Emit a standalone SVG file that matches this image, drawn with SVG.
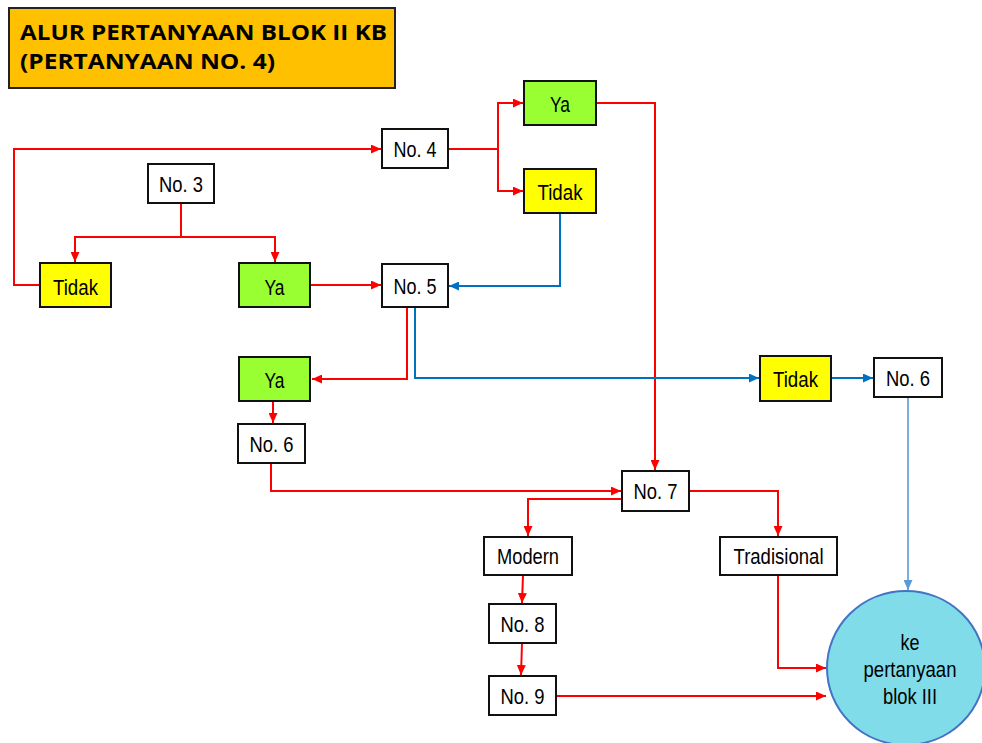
<svg xmlns="http://www.w3.org/2000/svg" width="982" height="743" viewBox="0 0 982 743">
<style>
.box{stroke:#111;stroke-width:2}
.w{fill:#fff}
.y{fill:#ffff00}
.g{fill:#99ff33}
.t{font-family:"Liberation Sans",Arial,sans-serif;font-size:22.5px;fill:#000;text-anchor:middle}
.title{font-family:"Open Sans","Noto Sans",sans-serif;font-weight:bold;font-size:21px;fill:#000}
.r{fill:none;stroke:#ff0000;stroke-width:2;marker-end:url(#ar)}
.b{fill:none;stroke:#0070c0;stroke-width:2;marker-end:url(#ab)}
.lb{fill:none;stroke:#5b9bd5;stroke-width:1.6;marker-end:url(#al)}
</style>
<defs>
<marker id="ar" markerUnits="userSpaceOnUse" markerWidth="11" markerHeight="9" refX="10" refY="4.5" orient="auto"><path d="M0,0 L10,4.5 L0,9 z" fill="#ff0000"/></marker>
<marker id="ab" markerUnits="userSpaceOnUse" markerWidth="11" markerHeight="9" refX="10" refY="4.5" orient="auto"><path d="M0,0 L10,4.5 L0,9 z" fill="#0070c0"/></marker>
<marker id="al" markerUnits="userSpaceOnUse" markerWidth="11" markerHeight="9" refX="10" refY="4.5" orient="auto"><path d="M0,0 L10,4.5 L0,9 z" fill="#5b9bd5"/></marker>
</defs>
<rect width="982" height="743" fill="#fff"/>

<g id="title">
<rect x="9" y="8" width="386" height="80" fill="#ffc000" stroke="#222" stroke-width="2"/>
<text class="title" x="20" y="40" textLength="367" lengthAdjust="spacingAndGlyphs">ALUR PERTANYAAN BLOK II KB</text>
<text class="title" x="20" y="69" textLength="255" lengthAdjust="spacingAndGlyphs">(PERTANYAAN NO. 4)</text>
</g>

<g id="connectors">
<path class="r" d="M181,203 V237 H75 V262"/>
<path class="r" d="M181,237 H275 V262"/>
<path class="r" d="M40,285 H14 V149 H381"/>
<path class="r" d="M310,285 H381"/>
<path class="r" d="M448,149 H498 V103 H523"/>
<path class="r" d="M498,149 V191 H523"/>
<path class="r" d="M596,103 H655 V470"/>
<path class="b" d="M560,213 V286 H449"/>
<path class="r" d="M407,307 V379 H312"/>
<path class="b" d="M415,307 V378 H759"/>
<path class="r" d="M273,401 V423"/>
<path class="r" d="M271,463 V491 H621"/>
<path class="r" d="M622,499 H528 V536"/>
<path class="r" d="M689,491 H778 V536"/>
<path class="r" d="M523,575 L522,603"/>
<path class="r" d="M522,643 L521,675"/>
<path class="r" d="M556,696 H826"/>
<path class="r" d="M778,575 V668 H826"/>
<path class="b" d="M831,378 H873"/>
<path class="lb" d="M908,397 V590"/>
</g>

<g id="n3"><rect class="box w" x="148" y="164" width="66" height="39"/><text class="t" x="181" y="192" textLength="44" lengthAdjust="spacingAndGlyphs">No. 3</text></g>
<g id="n4"><rect class="box w" x="382" y="129" width="66" height="39"/><text class="t" x="415" y="157" textLength="43" lengthAdjust="spacingAndGlyphs">No. 4</text></g>
<g id="tidak1"><rect class="box y" x="40" y="263" width="71" height="44"/><text class="t" x="75.5" y="295" textLength="45" lengthAdjust="spacingAndGlyphs">Tidak</text></g>
<g id="ya1"><rect class="box g" x="239" y="263" width="71" height="44"/><text class="t" x="274.5" y="295" textLength="20" lengthAdjust="spacingAndGlyphs">Ya</text></g>
<g id="n5"><rect class="box w" x="382" y="264" width="66" height="43"/><text class="t" x="415" y="294" textLength="43" lengthAdjust="spacingAndGlyphs">No. 5</text></g>
<g id="ya2"><rect class="box g" x="524" y="81" width="72" height="44"/><text class="t" x="560" y="112" textLength="20" lengthAdjust="spacingAndGlyphs">Ya</text></g>
<g id="tidak2"><rect class="box y" x="524" y="169" width="72" height="44"/><text class="t" x="560" y="200" textLength="45" lengthAdjust="spacingAndGlyphs">Tidak</text></g>
<g id="ya3"><rect class="box g" x="239" y="357" width="71" height="44"/><text class="t" x="274.5" y="388" textLength="20" lengthAdjust="spacingAndGlyphs">Ya</text></g>
<g id="n6a"><rect class="box w" x="238" y="424" width="67" height="39"/><text class="t" x="271.5" y="452" textLength="44" lengthAdjust="spacingAndGlyphs">No. 6</text></g>
<g id="tidak3"><rect class="box y" x="760" y="356" width="71" height="45"/><text class="t" x="795.5" y="387" textLength="45" lengthAdjust="spacingAndGlyphs">Tidak</text></g>
<g id="n6b"><rect class="box w" x="874" y="358" width="68" height="39"/><text class="t" x="908" y="386" textLength="44" lengthAdjust="spacingAndGlyphs">No. 6</text></g>
<g id="n7"><rect class="box w" x="622" y="471" width="67" height="40"/><text class="t" x="655.5" y="499" textLength="44" lengthAdjust="spacingAndGlyphs">No. 7</text></g>
<g id="modern"><rect class="box w" x="484" y="537" width="88" height="38"/><text class="t" x="528" y="564" textLength="62" lengthAdjust="spacingAndGlyphs">Modern</text></g>
<g id="tradisional"><rect class="box w" x="720" y="537" width="117" height="38"/><text class="t" x="778.5" y="564" textLength="90" lengthAdjust="spacingAndGlyphs">Tradisional</text></g>
<g id="n8"><rect class="box w" x="489" y="604" width="67" height="39"/><text class="t" x="522.5" y="632" textLength="44" lengthAdjust="spacingAndGlyphs">No. 8</text></g>
<g id="n9"><rect class="box w" x="489" y="676" width="67" height="39"/><text class="t" x="522.5" y="704" textLength="44" lengthAdjust="spacingAndGlyphs">No. 9</text></g>
<g id="end">
<ellipse cx="906" cy="668" rx="79" ry="77" fill="#7fdce8" stroke="#4472c4" stroke-width="2"/>
<text class="t" x="910" y="650" textLength="19" lengthAdjust="spacingAndGlyphs">ke</text>
<text class="t" x="910" y="677" textLength="93" lengthAdjust="spacingAndGlyphs">pertanyaan</text>
<text class="t" x="910" y="704" textLength="54" lengthAdjust="spacingAndGlyphs">blok III</text>
</g>
</svg>
